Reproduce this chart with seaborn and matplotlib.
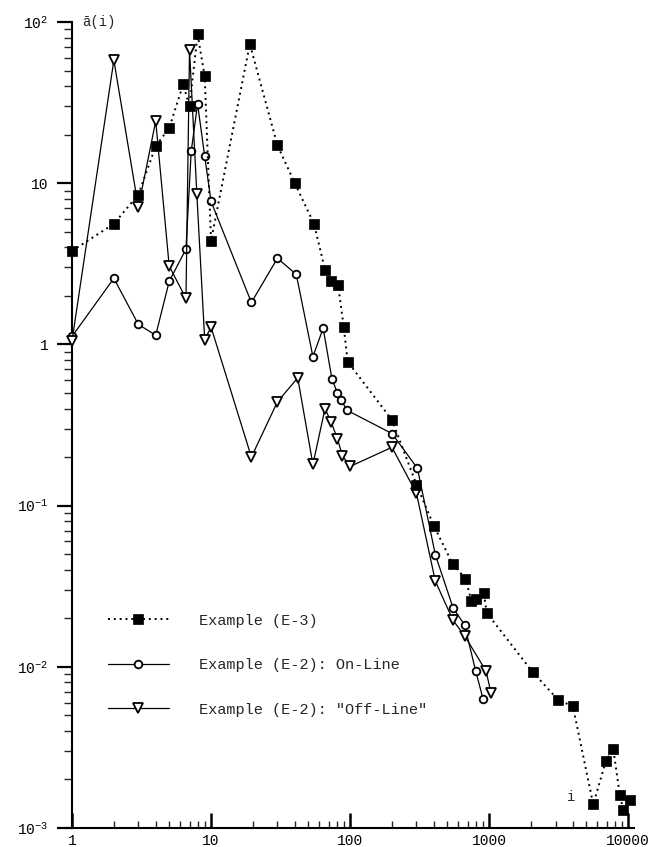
import matplotlib
matplotlib.use("Agg")
import matplotlib.pyplot as plt
import seaborn as sns
import numpy as np
import pandas as pd
from matplotlib.ticker import LogLocator, FixedLocator, FixedFormatter, NullFormatter

# ---- data ----
e3_i = [1, 2, 3, 4, 5, 6.3, 7, 8, 9, 10, 19, 30, 40, 55, 66, 73, 82, 90, 96,
        200, 300, 400, 545, 675, 745, 800, 915, 960, 2050, 3150, 4000, 5600,
        6900, 7800, 8700, 9200, 10300]
e3_a = [3.8, 5.6, 8.5, 17, 22, 41, 30, 84, 46, 4.4, 73, 17.2, 10, 5.6, 2.9, 2.46,
        2.33, 1.28, 0.78, 0.34, 0.135, 0.075, 0.0436, 0.0352, 0.0257, 0.0264,
        0.0288, 0.0216, 0.0093, 0.0062, 0.0057, 0.0014, 0.0026, 0.0031, 0.0016,
        0.0013, 0.0015]

on_i = [1, 2, 3, 4, 5, 6.6, 7.2, 8, 9, 10, 19.5, 30, 41, 54, 64, 74, 81, 86, 95,
        200, 305, 410, 550, 665, 800, 905]
on_a = [1.12, 2.57, 1.33, 1.14, 2.46, 3.9, 15.8, 31, 14.7, 7.7, 1.82, 3.42, 2.72,
        0.84, 1.26, 0.61, 0.5, 0.455, 0.39, 0.28, 0.17, 0.0496, 0.0232, 0.0182,
        0.0094, 0.0063]

off_i = [1, 2, 3, 4, 5, 6.6, 7, 7.9, 9, 10, 19.5, 30, 42, 54, 66, 73, 81, 88, 100,
         200, 300, 410, 550, 665, 950, 1030]
off_a = [1.05, 58, 7.1, 24.3, 3.06, 1.93, 67, 8.6, 1.07, 1.28, 0.20, 0.44, 0.62,
         0.18, 0.40, 0.33, 0.26, 0.204, 0.175, 0.23, 0.119, 0.034, 0.0194, 0.0156,
         0.0094, 0.0069]

labels = ["Example (E-3)", "Example (E-2): On-Line", 'Example (E-2): "Off-Line"']
x_ticks = [1, 10, 100, 1000, 10000]
x_ticklabels = ["1", "10", "100", "1000", "10000"]
y_ticks = [1e-3, 1e-2, 1e-1, 1, 10, 100]
y_ticklabels = [r"$\mathregular{10^{-3}}$", r"$\mathregular{10^{-2}}$",
                r"$\mathregular{10^{-1}}$", "1", "10", r"$\mathregular{10^{2}}$"]

sns.set_theme(style="ticks")
plt.rcParams["font.family"] = ["Liberation Mono", "DejaVu Sans Mono", "DejaVu Sans"]
plt.rcParams["mathtext.fontset"] = "custom"
plt.rcParams["mathtext.rm"] = "Liberation Mono"
plt.rcParams["mathtext.it"] = "Liberation Mono"

fig = plt.figure(figsize=(6.5, 8.47), dpi=100)
fig.patch.set_facecolor("white")
ax = fig.add_axes([72 / 650, 1 - 828 / 847, 562 / 650, (828 - 22) / 847])
ax.set_facecolor("white")

ax.set_xscale("log")
ax.set_yscale("log")

df_e3 = pd.DataFrame({"i": e3_i, "a": e3_a})
df_on = pd.DataFrame({"i": on_i, "a": on_a})
df_off = pd.DataFrame({"i": off_i, "a": off_a})

sns.lineplot(data=df_on, x="i", y="a", ax=ax, estimator=None, sort=False,
             color="black", linewidth=0.9, linestyle="-", marker="o",
             markersize=5.5, markerfacecolor="white", markeredgecolor="black",
             markeredgewidth=1.3, label=labels[1], zorder=3, clip_on=False)
sns.lineplot(data=df_off, x="i", y="a", ax=ax, estimator=None, sort=False,
             color="black", linewidth=0.9, linestyle="-", marker="v",
             markersize=7, markerfacecolor="white", markeredgecolor="black",
             markeredgewidth=1.3, label=labels[2], zorder=3, clip_on=False)
sns.lineplot(data=df_e3, x="i", y="a", ax=ax, estimator=None, sort=False,
             color="black", linewidth=1.4, linestyle=(0, (1, 2)), marker="s",
             markersize=6.5, markerfacecolor="black", markeredgecolor="black",
             markeredgewidth=0.5, label=labels[0], zorder=4, clip_on=False)

ax.set_xlim(1, 11000)
ax.set_ylim(1e-3, 100)

ax.xaxis.set_major_locator(FixedLocator(x_ticks))
ax.xaxis.set_major_formatter(FixedFormatter(x_ticklabels))
ax.xaxis.set_minor_locator(LogLocator(base=10, subs=np.arange(2, 10), numticks=20))
ax.xaxis.set_minor_formatter(NullFormatter())
ax.yaxis.set_major_locator(FixedLocator(y_ticks))
ax.yaxis.set_major_formatter(FixedFormatter(y_ticklabels))
ax.yaxis.set_minor_locator(LogLocator(base=10, subs=np.arange(2, 10), numticks=20))
ax.yaxis.set_minor_formatter(NullFormatter())

ax.tick_params(axis="x", which="major", direction="in", length=11, width=1.8,
               labelsize=10.5, pad=4, colors="black")
ax.tick_params(axis="x", which="minor", direction="in", length=5, width=1.0)
ax.tick_params(axis="y", which="major", direction="out", length=11, width=1.6,
               labelsize=10.5, pad=6, colors="black")
ax.tick_params(axis="y", which="minor", direction="out", length=6, width=1.0)

for s in ["top", "right"]:
    ax.spines[s].set_visible(False)
for s in ["left", "bottom"]:
    ax.spines[s].set_color("black")
    ax.spines[s].set_linewidth(1.5)

ax.set_xlabel("")
ax.set_ylabel("")
ax.text(0.018, 1.0, "ā(i)", transform=ax.transAxes, fontsize=10, va="center",
        ha="left")
ax.text(0.88, 0.038, "i", transform=ax.transAxes, fontsize=10, va="center",
        ha="left")

handles, labs = ax.get_legend_handles_labels()
order = [labs.index(l) for l in labels]
leg = ax.legend([handles[k] for k in order], [labs[k] for k in order],
                loc="upper left", bbox_to_anchor=(100 / 650, 1 - 606 / 847),
                bbox_transform=fig.transFigure, frameon=False, fontsize=11,
                handlelength=4.0, handletextpad=2.0, labelspacing=2.0,
                borderpad=0, numpoints=1)

fig.savefig("out.png", dpi=100, facecolor="white")
